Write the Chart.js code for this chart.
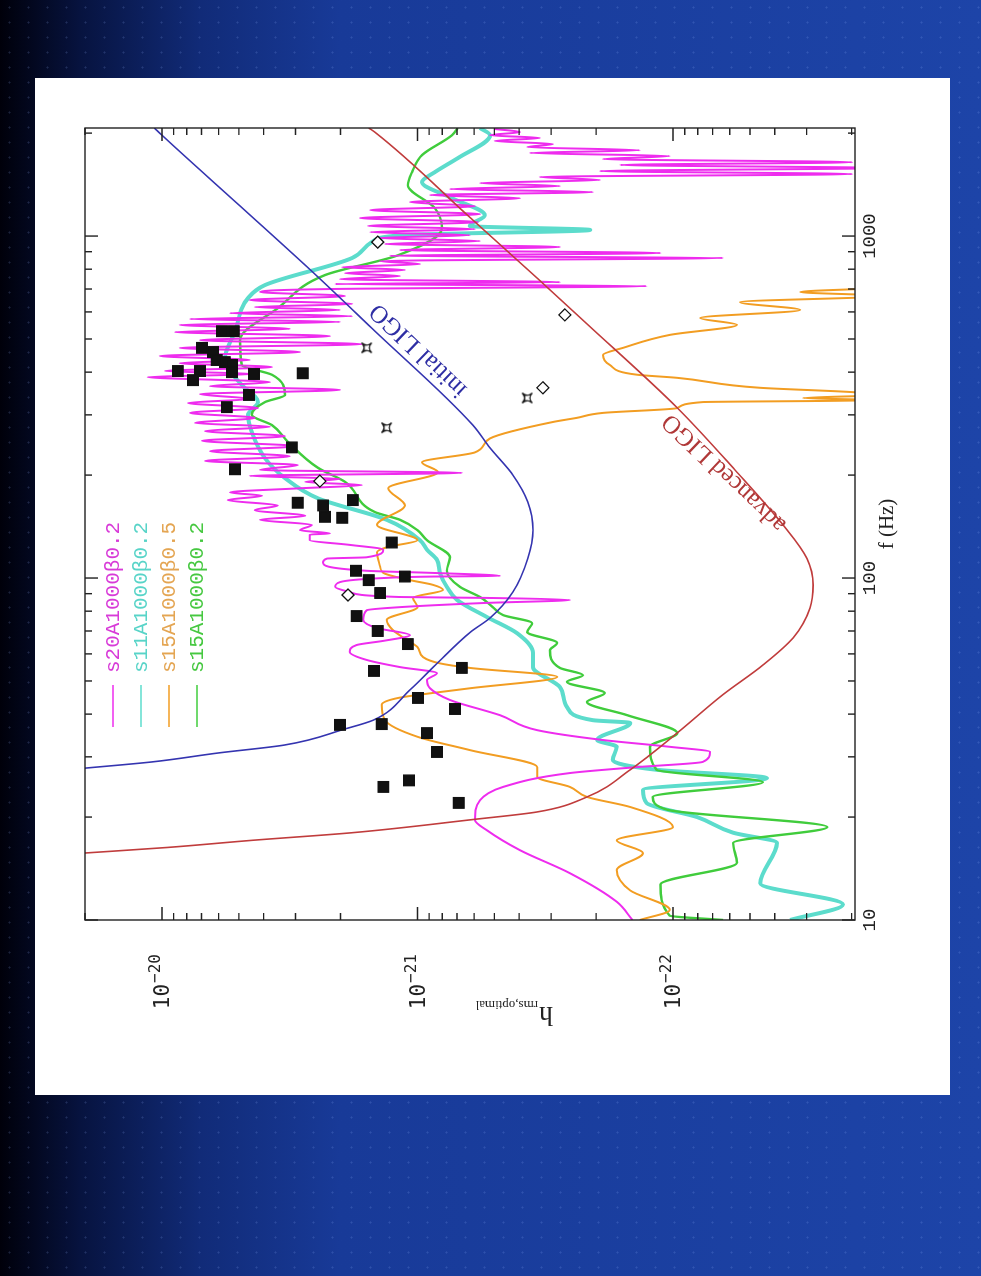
<!DOCTYPE html>
<html>
<head>
<meta charset="utf-8">
<title>h_rms,optimal vs f</title>
<script src="https://cdn.jsdelivr.net/npm/chart.js@4.4.1/dist/chart.umd.min.js"></script>
<style>
  html, body { margin: 0; padding: 0; }
  body {
    width: 981px; height: 1276px; overflow: hidden; position: relative;
    background-color: #1c42a6;
    background-image:
      radial-gradient(circle, rgba(150, 180, 255, 0.18) 0.8px, transparent 1.3px),
      linear-gradient(90deg, #00000a 0px, #07133f 80px, #112b78 200px, #183a98 340px, #1d44a8 981px);
    background-size: 19px 15px, 100% 100%;
  }
  .panel { position: absolute; left: 35px; top: 78px; width: 915px; height: 1017px; background: #fff; }
  /* chart is drawn landscape, then turned a quarter turn to the left like the slide */
  #chart { position: absolute; left: 0; top: 0; transform-origin: 0 0; transform: translate(35px, 1095px) rotate(-90deg); }
</style>
</head>
<body>
<div class="panel"></div>
<canvas id="chart" width="1017" height="915"></canvas>
<script>
// ---- data: frequency (Hz) and h_rms,optimal ----
const fS20 = [10.0, 11.3, 13.7, 16.0, 18.3, 19.6, 22.4, 24.5, 26.9, 28.0, 29.0, 31.0, 32.1, 33.6, 35.9, 39.7, 44.0, 47.6, 50.3, 52.7,
  54.9, 57.6, 60.8, 63.7, 65.5, 68.1, 71.4, 75.4, 80.5, 82.2, 84.5, 86.3, 87.5, 88.0, 91.0, 94.2, 97.3, 100, 101, 101.4,
  103.5, 105, 111, 114, 115, 121, 125, 129, 134, 135, 138,
  143, 148, 152, 158, 163, 169, 174, 178, 183, 187, 191, 195, 199, 203, 207, 214, 220, 227, 235, 243,
  252, 260, 269, 277, 284, 294, 304, 314, 325, 334, 345, 355, 364, 374, 387, 395, 403, 414, 425, 434,
  446, 458, 471, 483, 496, 510, 524, 535,
  550, 561, 572, 583, 595, 608, 620, 633, 650, 668, 686, 700, 714, 724, 733, 748, 764, 779, 796, 811,
  828, 845, 863, 875, 892, 910, 929, 948, 967, 987, 1006, 1027, 1048, 1070, 1099, 1129, 1159, 1191, 1223, 1257,
  1291, 1318, 1345, 1372, 1400, 1429, 1458, 1489, 1518, 1549, 1581, 1614, 1644, 1679, 1714, 1750, 1782, 1820, 1858, 1897,
  1936, 1972, 2014, 2056];
const hS20 = [1.44e-22, 1.66e-22, 2.53e-22, 3.97e-22, 5.35e-22, 5.96e-22, 5.69e-22, 4.62e-22, 2.53e-22, 1.38e-22,
  7.64e-23, 7.16e-23, 1.03e-22, 1.88e-22, 3.40e-22, 4.75e-22, 7.46e-22, 8.93e-22, 9.18e-22, 8.39e-22,
  1.17e-21, 1.58e-21, 1.84e-21, 1.73e-21, 1.36e-21, 1.07e-21, 1.44e-21, 1.63e-21, 1.58e-21, 1.17e-21,
  5.55e-22, 2.53e-22, 5.55e-22, 1.17e-21, 1.84e-21, 2.10e-21, 2.01e-21, 1.36e-21, 8.69e-22, 4.75e-22,
  8.69e-22, 1.58e-21, 2.34e-21, 2.26e-21, 1.58e-21, 1.36e-21, 1.84e-21, 2.64e-21, 2.64e-21, 2.20e-21, 2.88e-21,
  2.59e-21, 4.13e-21, 2.75e-21, 4.33e-21, 3.52e-21, 5.52e-21, 4.06e-21, 5.42e-21, 2.88e-21, 1.65e-21,
  2.75e-21, 2.01e-21, 4.53e-21, 6.70e-22, 4.13e-21, 2.94e-21, 6.79e-21, 3.16e-21, 6.49e-21, 3.01e-21,
  6.97e-21, 3.30e-21, 6.79e-21, 3.78e-21, 7.43e-21, 4.33e-21, 7.77e-21, 4.21e-21, 7.91e-21, 4.53e-21,
  7.10e-21, 2.01e-21, 6.49e-21, 3.78e-21, 1.135e-20, 4.33e-21, 9.73e-21, 3.71e-21, 8.51e-21, 4.53e-21,
  1.02e-20, 2.88e-21, 8.51e-21, 1.65e-21, 7.10e-21, 2.20e-21, 8.89e-21, 3.16e-21,
  8.51e-21, 2.01e-21, 7.77e-21, 1.80e-21, 5.42e-21, 2.01e-21, 4.33e-21, 1.80e-21, 4.53e-21, 1.92e-21,
  4.13e-21, 2.20e-21, 1.27e-22, 2.10e-21, 2.77e-22, 2.01e-21, 1.17e-21, 1.92e-21, 1.12e-21, 1.97e-21,
  9.77e-22, 1.40e-21, 6.37e-23, 1.28e-21, 1.12e-22, 1.17e-21, 2.77e-22, 1.34e-21, 5.69e-22, 1.43e-21,
  6.24e-22, 1.53e-21, 5.96e-22, 1.56e-21, 5.80e-22, 1.68e-21, 5.69e-22, 1.53e-21, 5.96e-22, 1.07e-21,
  3.97e-22, 8.93e-22, 2.06e-22, 7.46e-22, 2.77e-22, 5.69e-22, 1.93e-22, 3.32e-22, 1.99e-23, 1.93e-22,
  1.5e-23, 1.61e-22, 1.99e-23, 1.88e-22, 1.03e-22, 3.63e-22, 1.35e-22, 3.72e-22, 2.95e-22, 4.98e-22,
  3.32e-22, 5.2e-22, 3.97e-22, 4.98e-22];

const fS11 = [10.0, 11.1, 12.8, 16.8, 18.0, 20.0, 22.0, 24.0, 26.0, 27.5, 29.4, 32.1, 33.6, 37.7, 38.4, 42.0, 48.0, 54.9, 60.4, 69.0,
  76.9, 86.3, 94.2, 103.5, 113, 121, 129, 148, 171, 196, 224, 267, 300, 327, 367, 411, 440, 524, 659, 719,
  863, 960, 1006, 1042, 1070, 1150, 1291, 1438, 1538, 1690, 1972, 2070];
const hS11 = [3.48e-23, 2.16e-23, 4.56e-23, 3.92e-23, 5.82e-23, 8.05e-23, 1.27e-22, 1.31e-22, 4.29e-23, 1.16e-22,
  1.72e-22, 1.66e-22, 1.98e-22, 1.47e-22, 2.06e-22, 2.60e-22, 2.77e-22, 3.53e-22, 3.53e-22, 4.08e-22,
  5.35e-22, 7.0e-22, 7.67e-22, 8.17e-22, 8.39e-22, 9.18e-22, 9.77e-22, 1.32e-21, 2.45e-21, 3.30e-21,
  3.95e-21, 4.45e-21, 4.60e-21, 4.21e-21, 4.87e-21, 5.52e-21, 5.67e-21, 5.18e-21, 4.60e-21, 3.95e-21,
  1.80e-21, 1.51e-21, 1.15e-21, 2.11e-22, 6.24e-22, 5.45e-22, 7.33e-22, 9.59e-22, 8.55e-22, 6.95e-22,
  5.2e-22, 5.69e-22];

const fS15b05 = [10.0, 10.7, 12.2, 14.0, 15.7, 17.1, 18.7, 21.4, 22.9, 24.5, 26.2, 28.0, 31.4, 34.3, 38.4, 42.6, 44.6, 46.4, 47.6, 51.4,
  54.6, 56.3, 58.7, 62.8, 65.9, 70.5, 75.4, 82.2, 87.5, 92.3, 95.5, 98.6, 103.5, 108, 119, 123, 129, 143, 163, 183,
  204, 218, 233, 256, 286, 294, 304, 314, 327, 331, 336, 343, 350, 360, 385, 393, 420, 449, 471, 514,
  550, 576, 608, 641, 668, 686, 705, 720];
const hS15b05 = [1.35e-22, 1.03e-22, 1.47e-22, 1.66e-22, 1.31e-22, 1.66e-22, 1.0e-22, 1.47e-22, 2.17e-22, 2.53e-22,
  3.40e-22, 3.40e-22, 6.24e-22, 9.95e-22, 1.34e-21, 1.38e-21, 1.19e-21, 8.17e-22, 6.24e-22, 2.84e-22,
  6.24e-22, 8.17e-22, 9.5e-22, 1.00e-21, 1.10e-21, 1.25e-21, 1.32e-21, 1.00e-21, 1.04e-21, 7.95e-22,
  8.69e-22, 1.07e-21, 1.36e-21, 1.40e-21, 1.44e-21, 1.32e-21, 1.00e-21, 1.44e-21, 1.12e-21, 1.30e-21,
  8.32e-22, 9.59e-22, 5.96e-22, 5.2e-22, 2.95e-22, 2.38e-22, 1.88e-22, 9.63e-23, 7.64e-23, 1.5e-23,
  3.10e-23, 1.5e-23, 2.03e-23, 4.56e-23, 9.63e-23, 1.38e-22, 1.77e-22, 1.88e-22, 1.57e-22, 1.03e-22,
  5.62e-23, 7.83e-23, 3.18e-23, 5.47e-23, 1.5e-23, 3.18e-23, 1.5e-23, 1.0e-23];

const fS15b02 = [10.0, 10.3, 12.7, 14.7, 16.8, 18.7, 21.0, 22.9, 25.3, 27.5, 32.1, 35.2, 39.7, 43.4, 46.1, 49.7, 52.0, 54.6, 61.5, 64.6,
  69.5, 73.8, 77.9, 82.2, 88.0, 94.2, 105, 115, 129, 138, 148, 156, 191, 210, 250, 280, 300, 327, 343, 393,
  420, 496, 615, 769, 879, 1055, 1207, 1409, 1538, 1726, 1972, 2070];
const hS15b02 = [6.37e-23, 1.03e-22, 1.12e-22, 5.62e-23, 5.82e-23, 2.49e-23, 1.05e-22, 1.20e-22, 4.45e-23, 1.16e-22,
  1.23e-22, 9.63e-23, 1.51e-22, 2.17e-22, 1.85e-22, 2.60e-22, 2.25e-22, 2.77e-22, 3.03e-22, 2.84e-22,
  3.72e-22, 3.56e-22, 4.62e-22, 5.07e-22, 5.69e-22, 6.82e-22, 7.67e-22, 7.46e-22, 9.18e-22, 1.00e-21,
  1.17e-21, 1.47e-21, 1.92e-21, 2.45e-21, 3.21e-21, 3.71e-21, 4.45e-21, 3.95e-21, 3.30e-21, 3.71e-21,
  4.87e-21, 4.95e-21, 3.52e-21, 2.30e-21, 1.19e-21, 8.02e-22, 8.55e-22, 1.09e-21, 1.05e-21, 9.59e-22,
  7.33e-22, 6.95e-22];

// detector sensitivity curves
const fInitial = [27.8, 29.0, 30.8, 32.5, 36.2, 38.4, 47.1, 55.7, 69.5, 76.4, 91.0, 114, 138, 167, 200, 240, 280, 538, 759, 1225, 1972, 2070];
const hInitial = [2.0e-20, 1.09e-20, 6.0e-21, 3.3e-21, 1.92e-21, 1.49e-21, 1.07e-21, 8.5e-22, 6.2e-22, 5.2e-22, 4.23e-22,
  3.7e-22, 3.53e-22, 3.7e-22, 4.23e-22, 5.2e-22, 6.07e-22, 1.51e-21, 2.45e-21, 4.95e-21, 1.0e-20, 1.07e-20];
const fAdvanced = [15.7, 16.3, 17.1, 18.0, 19.7, 20.7, 22.9, 27.5, 35.3, 45.5, 55.7, 66.8, 81.7, 95.4, 114, 143, 207, 314, 550, 753, 1130, 2014, 2070];
const hAdvanced = [2.0e-20, 9.5e-21, 4.44e-21, 1.8e-21, 5.96e-22, 3.4e-22, 2.17e-22, 1.47e-22, 9.6e-23, 6.4e-23, 4.44e-23,
  3.39e-23, 2.91e-23, 2.83e-23, 2.99e-23, 3.71e-23, 5.72e-23, 9.6e-23, 2.15e-22, 3.4e-22, 6.2e-22, 1.47e-21, 1.55e-21];

// individual models (filled squares, open diamonds, open stars)
const fSquares = [527, 527, 471, 458, 434, 428, 420, 400, 403, 403, 379, 395, 397, 343, 316, 241, 208, 166, 163, 169, 151,
  150, 127, 105, 98.6, 101, 90.4, 77.4, 70.0, 64.1, 54.6, 53.5, 44.6, 41.4, 37.2, 37.4, 35.2, 31.0, 24.5, 25.6, 22.0];
const hSquares = [5.82e-21, 5.23e-21, 6.97e-21, 6.31e-21, 6.10e-21, 5.67e-21, 5.32e-21, 5.32e-21, 8.66e-21, 7.10e-21,
  7.56e-21, 4.36e-21, 2.81e-21, 4.56e-21, 5.57e-21, 3.10e-21, 5.18e-21, 2.94e-21, 2.34e-21, 1.79e-21, 2.30e-21,
  1.97e-21, 1.26e-21, 1.74e-21, 1.55e-21, 1.12e-21, 1.40e-21, 1.73e-21, 1.43e-21, 1.09e-21, 6.70e-22, 1.48e-21,
  9.95e-22, 7.13e-22, 2.01e-21, 1.38e-21, 9.18e-22, 8.39e-22, 1.36e-21, 1.08e-21, 6.89e-22];
const fDiamonds = [960, 588, 192, 360, 89.2];
const hDiamonds = [1.43e-21, 2.65e-22, 2.41e-21, 3.23e-22, 1.87e-21];
const fStars = [471, 275, 336];
const hStars = [1.58e-21, 1.32e-21, 3.72e-22];

// axes
const fTicks = [10, 20, 30, 40, 50, 60, 70, 80, 90, 100, 200, 300, 400, 500, 600, 700, 800, 900, 1000, 2000];
const fLabels = [10, 100, 1000];
const hTicks = [2e-23, 3e-23, 4e-23, 5e-23, 6e-23, 7e-23, 8e-23, 9e-23,
  1e-22, 2e-22, 3e-22, 4e-22, 5e-22, 6e-22, 7e-22, 8e-22, 9e-22,
  1e-21, 2e-21, 3e-21, 4e-21, 5e-21, 6e-21, 7e-21, 8e-21, 9e-21, 1e-20, 2e-20];
const hMajor = [1e-22, 1e-21, 1e-20];
const hExponents = ['−22', '−21', '−20'];
const modelLabels = ['s20A1000β0.2', 's11A1000β0.2', 's15A1000β0.5', 's15A1000β0.2'];

const COLORS = {
  s20: '#ee2cee', s11: '#5cdccc', s15b05: '#f29d22', s15b02: '#40cc3c',
  initial: '#3434b0', advanced: '#c03c3c'
};
const LEGEND_TEXT = ['#d83ad8', '#58d4c8', '#e4a552', '#46c840'];

const lineNotes = [
  { text: 'initial LIGO', f: 464, h: 9.9e-22, angle: -46.3, color: '#2e2ea4' },
  { text: 'advanced LIGO', f: 203, h: 6.3e-23, angle: -46.5, color: '#b03838' }
];

// ---- helpers ----
function points(fs, hs) {
  return fs.map((f, i) => ({ x: f, y: hs[i] }));
}

function curve(label, fs, hs, color, width, order) {
  return {
    label, data: points(fs, hs),
    borderColor: color, backgroundColor: color, borderWidth: width,
    pointRadius: 0, fill: false, cubicInterpolationMode: 'monotone', order
  };
}

function markers(label, fs, hs, style, radius, fillColor) {
  return {
    label, data: points(fs, hs), showLine: false,
    pointStyle: style, pointRadius: radius,
    pointBackgroundColor: fillColor, pointBorderColor: '#111', pointBorderWidth: 1.3, order: 0
  };
}

// four pointed open star with concave sides
function makeStar(size) {
  const c = document.createElement('canvas');
  c.width = c.height = size;
  const g = c.getContext('2d');
  const a = 1.5, b = size - 1.5, m = size / 2, d = size * 0.36;
  g.beginPath();
  g.moveTo(a, a);
  g.quadraticCurveTo(m, a + d, b, a);
  g.quadraticCurveTo(b - d, m, b, b);
  g.quadraticCurveTo(m, b - d, a, b);
  g.quadraticCurveTo(a + d, m, a, a);
  g.closePath();
  g.fillStyle = '#fff';
  g.fill();
  g.strokeStyle = '#111';
  g.lineWidth = 1.3;
  g.stroke();
  return c;
}

const isMajor = v => Math.abs(Math.log10(v) - Math.round(Math.log10(v))) < 1e-6;

// frame with inward ticks on all four sides
const framePlugin = {
  id: 'frame',
  afterDraw(chart) {
    const { ctx, chartArea: a, scales: { x, y } } = chart;
    ctx.save();
    ctx.strokeStyle = '#222';
    ctx.lineWidth = 1.4;
    ctx.strokeRect(a.left, a.top, a.right - a.left, a.bottom - a.top);
    ctx.beginPath();
    x.ticks.forEach(t => {
      const p = x.getPixelForValue(t.value), len = isMajor(t.value) ? 13 : 7;
      ctx.moveTo(p, a.top); ctx.lineTo(p, a.top + len);
      ctx.moveTo(p, a.bottom); ctx.lineTo(p, a.bottom - len);
    });
    y.ticks.forEach(t => {
      const p = y.getPixelForValue(t.value), len = isMajor(t.value) ? 13 : 7;
      ctx.moveTo(a.left, p); ctx.lineTo(a.left + len, p);
      ctx.moveTo(a.right, p); ctx.lineTo(a.right - len, p);
    });
    ctx.stroke();
    ctx.restore();
  }
};

// legend, curve names, y tick labels with exponents, and the y title with its subscript
const textPlugin = {
  id: 'texts',
  afterDraw(chart) {
    const { ctx, chartArea: a, scales: { x, y } } = chart;
    ctx.save();

    ctx.font = '21px "Liberation Mono", monospace';
    ctx.textBaseline = 'middle';
    ctx.textAlign = 'left';
    modelLabels.forEach((label, i) => {
      const v = 78 + i * 28;
      ctx.strokeStyle = chart.data.datasets[i].borderColor;
      ctx.lineWidth = 1.6;
      ctx.beginPath();
      ctx.moveTo(368, v); ctx.lineTo(410, v);
      ctx.stroke();
      ctx.fillStyle = LEGEND_TEXT[i];
      ctx.fillText(label, 422, v);
    });

    // 10^n labels: base and raised exponent
    ctx.fillStyle = '#222';
    hMajor.forEach((m, i) => {
      const v = y.getPixelForValue(m);
      ctx.font = '16px "DejaVu Sans Mono", monospace';
      const ew = ctx.measureText(hExponents[i]).width;
      ctx.font = '21px "DejaVu Sans Mono", monospace';
      const bw = ctx.measureText('10').width;
      const right = a.left - 34;
      ctx.fillText('10', right - ew - bw - 1, v + 2);
      ctx.font = '16px "DejaVu Sans Mono", monospace';
      ctx.fillText(hExponents[i], right - ew, v - 6);
    });

    lineNotes.forEach(n => {
      ctx.save();
      ctx.translate(x.getPixelForValue(n.f), y.getPixelForValue(n.h));
      ctx.rotate(n.angle * Math.PI / 180);
      ctx.font = '25px "Liberation Serif", serif';
      ctx.fillStyle = n.color;
      ctx.textAlign = 'center';
      ctx.textBaseline = 'middle';
      ctx.fillText(n.text, 0, 0);
      ctx.restore();
    });

    ctx.translate(80, 478);
    ctx.rotate(-Math.PI / 2);
    ctx.fillStyle = '#222';
    ctx.textAlign = 'left';
    ctx.textBaseline = 'alphabetic';
    ctx.font = '28px "Liberation Serif", serif';
    ctx.fillText('h', -40, 8);
    const hw = ctx.measureText('h').width;
    ctx.font = '13px "Liberation Serif", serif';
    ctx.fillText('rms,optimal', -40 + hw + 1, 14);
    ctx.restore();
  }
};

const datasets = [
  curve(modelLabels[0], fS20, hS20, COLORS.s20, 2, 2),
  curve(modelLabels[1], fS11, hS11, COLORS.s11, 4, 5),
  curve(modelLabels[2], fS15b05, hS15b05, COLORS.s15b05, 2, 3),
  curve(modelLabels[3], fS15b02, hS15b02, COLORS.s15b02, 2.4, 4),
  curve('initial LIGO', fInitial, hInitial, COLORS.initial, 1.6, 1),
  curve('advanced LIGO', fAdvanced, hAdvanced, COLORS.advanced, 1.6, 1),
  markers('models', fSquares, hSquares, 'rect', 7.5, '#111'),
  markers('models (diamond)', fDiamonds, hDiamonds, 'rectRot', 6, '#fff'),
  markers('models (star)', fStars, hStars, makeStar(13), 7, '#fff')
];

new Chart(document.getElementById('chart'), {
  type: 'line',
  data: { datasets },
  options: {
    responsive: false,
    animation: false,
    events: [],
    layout: { padding: { top: 50, right: 50, bottom: 0, left: 0 } },
    plugins: { legend: { display: false }, tooltip: { enabled: false } },
    scales: {
      x: {
        type: 'logarithmic', min: 10, max: 2070, bounds: 'data', position: 'bottom',
        grid: { display: false, drawTicks: false },
        border: { display: false },
        afterBuildTicks: s => { s.ticks = fTicks.map(v => ({ value: v })); },
        afterFit: s => { s.height = 95; },
        ticks: {
          autoSkip: false, maxRotation: 0, minRotation: 0, padding: 4, color: '#222',
          font: { family: '"Liberation Mono", monospace', size: 19 },
          callback: v => (fLabels.includes(v) ? String(v) : '')
        },
        title: {
          display: true, text: 'f (Hz)', color: '#222',
          font: { family: '"Liberation Serif", serif', size: 21 },
          padding: { top: 0, bottom: 50 }
        }
      },
      y: {
        type: 'logarithmic', min: 1.94e-23, max: 2.0e-20, bounds: 'data', position: 'left',
        grid: { display: false, drawTicks: false },
        border: { display: false },
        afterBuildTicks: s => { s.ticks = hTicks.map(v => ({ value: v })); },
        afterFit: s => { s.width = 175; },
        ticks: { display: false }
      }
    }
  },
  plugins: [framePlugin, textPlugin]
});
</script>
</body>
</html>
